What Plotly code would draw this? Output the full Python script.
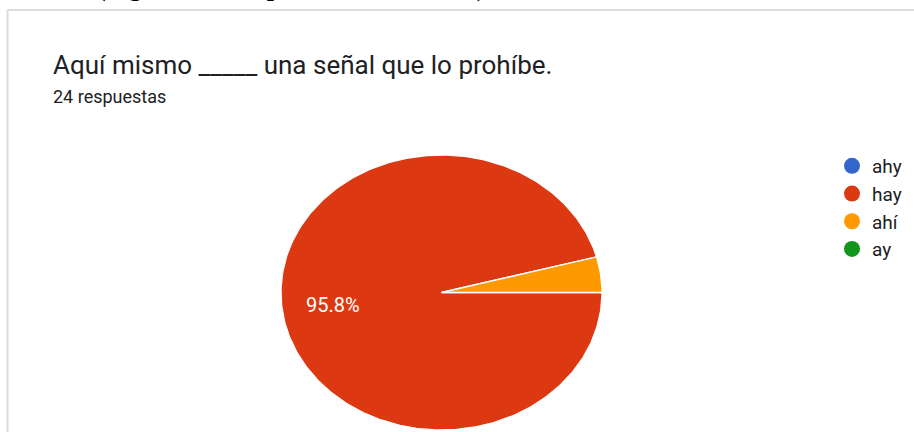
import numpy as np
import plotly.graph_objects as go

# ---- data ----
categories = ["ahy", "hay", "ahí", "ay"]
counts = [0, 23, 1, 0]
colors = ["#3366cc", "#dc3912", "#ff9900", "#109618"]
title_text = "Aquí mismo _____ una señal que lo prohíbe."
subtitle_text = "24 respuestas"
caption_text = "(Figura 12. Respuestas del ítem 12)"

# ---- layout constants (pixels) ----
W, H = 914, 432
CX, CY = 441.5, 292.5      # pie centre (from top-left)
RX, RY = 160.5, 137.5      # pie radii (reference is stretched horizontally)
LABEL_R = 0.68

fig = go.Figure()
total = sum(counts)
start = 0.0  # degrees, starting at 3 o'clock, going clockwise
for cat, n, col in zip(categories, counts, colors):
    frac = n / total
    if n > 0:
        a0, a1 = start, start - 360.0 * frac
        steps = max(int(abs(a1 - a0)), 2) + 1
        t = np.radians(np.linspace(a0, a1, steps))
        xs = np.concatenate([[0.0], np.cos(t), [0.0]])
        ys = np.concatenate([[0.0], np.sin(t), [0.0]])
        fig.add_trace(go.Scatter(
            x=xs, y=ys, mode="lines", fill="toself", fillcolor=col,
            line=dict(color="white", width=1.3), showlegend=False,
            hoverinfo="skip"))
        if frac >= 0.05:
            mid = np.radians((a0 + a1) / 2.0)
            fig.add_annotation(
                x=LABEL_R * np.cos(mid), y=LABEL_R * np.sin(mid),
                xref="x", yref="y", text=f"{frac * 100:.1f}%",
                showarrow=False,
                font=dict(family="Roboto", size=20, color="white"))
        start = a1
    fig.add_trace(go.Scatter(
        x=[None], y=[None], mode="markers", name=cat, legendgroup=cat,
        marker=dict(size=17, color=col, symbol="circle")))

# titles
fig.add_annotation(x=51 / W, y=1 - 65 / H, xref="paper", yref="paper",
                   xanchor="left", yanchor="middle", showarrow=False,
                   text=title_text,
                   font=dict(family="Roboto", size=26, color="#202124"))
fig.add_annotation(x=51 / W, y=1 - 96 / H, xref="paper", yref="paper",
                   xanchor="left", yanchor="middle", showarrow=False,
                   text=subtitle_text,
                   font=dict(family="Roboto", size=18, color="#202124"))
# cut-off caption from the surrounding document (only its bottom edge shows)
fig.add_annotation(x=95 / W, y=1 - 4 / H, xref="paper", yref="paper",
                   xanchor="left", yanchor="bottom", showarrow=False,
                   text="<b>" + caption_text + "</b>",
                   font=dict(family="Liberation Serif", size=26, color="black"))

# card border
border = "#dadce0"
fig.add_shape(type="line", xref="paper", yref="paper",
              x0=7.5 / W, x1=1, y0=1 - 10 / H, y1=1 - 10 / H,
              line=dict(color=border, width=2))
fig.add_shape(type="line", xref="paper", yref="paper",
              x0=7.5 / W, x1=7.5 / W, y0=0, y1=1 - 10 / H,
              line=dict(color=border, width=2))

fig.update_layout(
    width=W, height=H, autosize=False,
    margin=dict(l=0, r=0, t=0, b=0),
    paper_bgcolor="white", plot_bgcolor="white",
    xaxis=dict(range=[-CX / RX, (W - CX) / RX], visible=False, fixedrange=True),
    yaxis=dict(range=[-(H - CY) / RY, CY / RY], visible=False, fixedrange=True),
    showlegend=True,
    legend=dict(x=832 / W, y=1 - 147 / H, xanchor="left", yanchor="top",
                bgcolor="rgba(0,0,0,0)", tracegroupgap=0,
                font=dict(family="Roboto", size=19, color="#202124")),
)

fig.write_html("out.html")
